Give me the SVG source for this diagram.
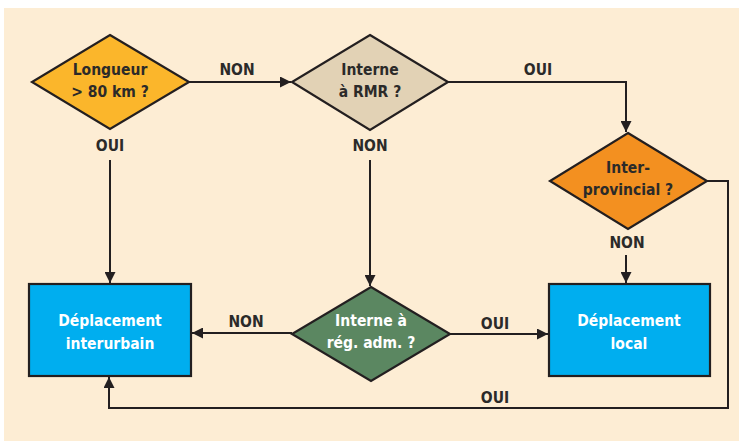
<svg xmlns="http://www.w3.org/2000/svg" width="739" height="441" viewBox="0 0 739 441">
  <defs>
    <marker id="arrow" viewBox="0 0 10 10" refX="10" refY="5" markerWidth="5.5" markerHeight="5.5" orient="auto" markerUnits="strokeWidth">
      <path d="M0,0 L10,5 L0,10 z" fill="#231f20"/>
    </marker>
    <style>
      .bg { fill: #fdedd4; }
      .shape { stroke: #231f20; stroke-width: 2.2; stroke-linejoin: miter; }
      .link { fill: none; stroke: #231f20; stroke-width: 2; }
      text { font-family: "DejaVu Sans Condensed", "Liberation Sans Narrow", "Liberation Sans", sans-serif; font-weight: bold; font-size: 15.5px; text-anchor: middle; }
      .dark { fill: #2b2a29; }
      .light { fill: #ffffff; }
    </style>
  </defs>

  <rect class="bg" x="4" y="8" width="735" height="433"/>

  <!-- connectors -->
  <g id="connectors">
    <line class="link" x1="189" y1="82" x2="291" y2="82" marker-end="url(#arrow)"/>
    <polyline class="link" points="448,82 626,82 626,132" marker-end="url(#arrow)"/>
    <line class="link" x1="110" y1="160" x2="110" y2="283" marker-end="url(#arrow)"/>
    <line class="link" x1="370" y1="160" x2="370" y2="286" marker-end="url(#arrow)"/>
    <line class="link" x1="626" y1="255" x2="626" y2="283" marker-end="url(#arrow)"/>
    <line class="link" x1="292" y1="333" x2="192" y2="333" marker-end="url(#arrow)"/>
    <line class="link" x1="450" y1="334" x2="548" y2="334" marker-end="url(#arrow)"/>
    <polyline class="link" points="707,181 728,181 728,408 109,408 109,377" marker-end="url(#arrow)"/>

    <text class="dark" x="237" y="75">NON</text>
    <text class="dark" x="538" y="75">OUI</text>
    <text class="dark" x="110" y="151">OUI</text>
    <text class="dark" x="370" y="151">NON</text>
    <text class="dark" x="627" y="248">NON</text>
    <text class="dark" x="246" y="327">NON</text>
    <text class="dark" x="495" y="329">OUI</text>
    <text class="dark" x="495" y="403">OUI</text>
  </g>

  <g id="longueur">
    <polygon class="shape" fill="#fbb62b" points="110,35 189,82 110,129 32,82"/>
    <text class="dark" x="110" y="75">Longueur</text>
    <text class="dark" x="110" y="97">&gt; 80 km ?</text>
  </g>

  <g id="interne-rmr">
    <polygon class="shape" fill="#e2d2b5" points="370,35 448,82 370,130 292,82"/>
    <text class="dark" x="370" y="75">Interne</text>
    <text class="dark" x="370" y="97">à RMR ?</text>
  </g>

  <g id="interprovincial">
    <polygon class="shape" fill="#f39020" points="628,133 707,181 628,229 550,181"/>
    <text class="dark" x="628" y="173">Inter-</text>
    <text class="dark" x="628" y="195">provincial ?</text>
  </g>

  <g id="interne-reg">
    <polygon class="shape" fill="#5b8761" points="371,287 450,334 371,381 292,334"/>
    <text class="light" x="371" y="326">Interne à</text>
    <text class="light" x="371" y="348">rég. adm. ?</text>
  </g>

  <g id="interurbain">
    <rect class="shape" fill="#00aeef" x="29" y="284" width="162" height="92"/>
    <text class="light" x="110" y="326">Déplacement</text>
    <text class="light" x="110" y="349">interurbain</text>
  </g>

  <g id="local">
    <rect class="shape" fill="#00aeef" x="549" y="284" width="161" height="92"/>
    <text class="light" x="629" y="326">Déplacement</text>
    <text class="light" x="629" y="349">local</text>
  </g>
</svg>
